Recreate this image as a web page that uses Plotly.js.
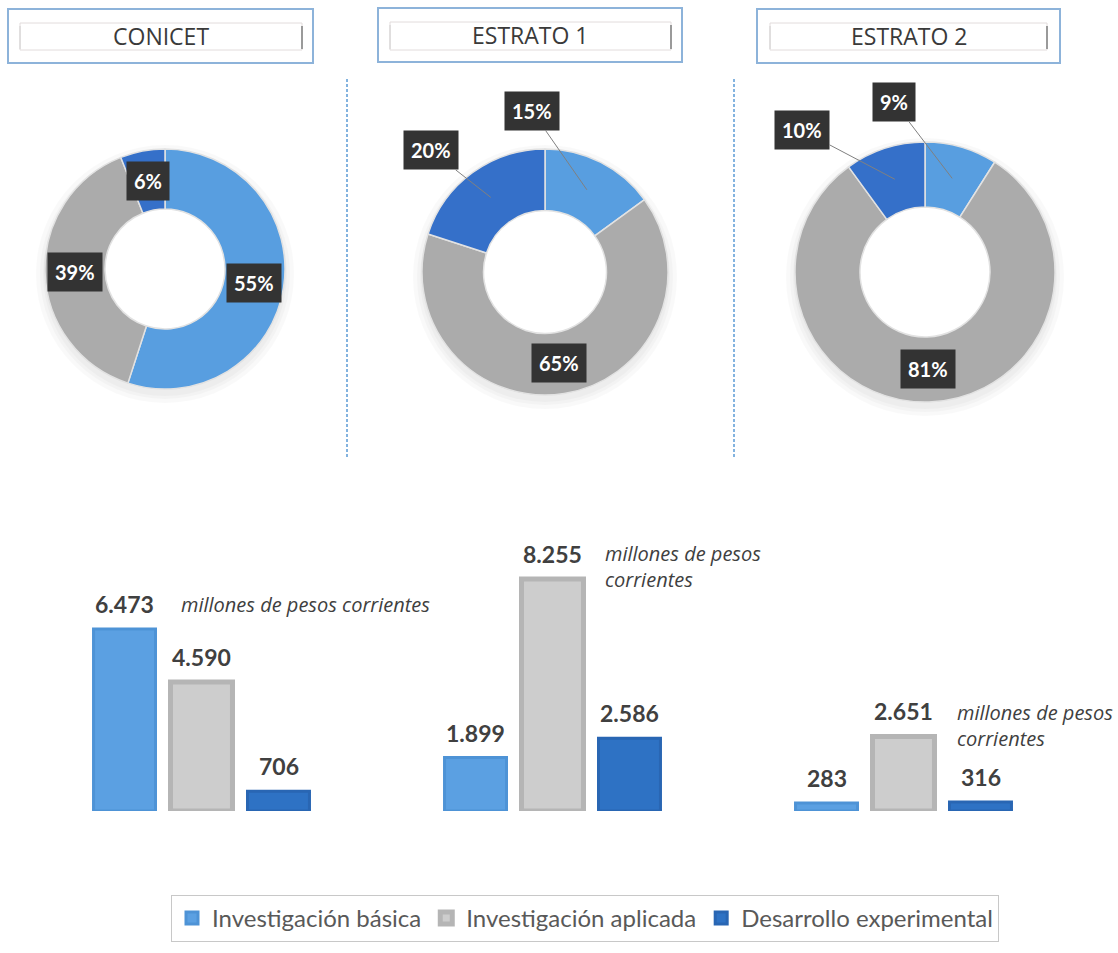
<!DOCTYPE html>
<html>
<head>
<meta charset="utf-8">
<script src="https://cdn.plot.ly/plotly-3.0.1.min.js"></script>
<style>
  html, body { margin: 0; padding: 0; background: #ffffff; }
  #chart { width: 1118px; height: 953px; }
</style>
</head>
<body>
<div id="chart"></div>
<script>
// ---------------- DATA ----------------
const categories = ['CONICET', 'ESTRATO 1', 'ESTRATO 2'];
const seriesNames = ['Investigación básica', 'Investigación aplicada', 'Desarrollo experimental'];

// millones de pesos corrientes
const basica       = [6473, 1899, 283];
const aplicada     = [4590, 8255, 2651];
const experimental = [706, 2586, 316];

// shares (%) shown in the donuts, per panel, in series order
const shareConicet  = [55, 39, 6];
const shareEstrato1 = [15, 65, 20];
const shareEstrato2 = [9, 81, 10];

const unitLabel = 'millones de pesos corrientes';

// ---------------- STYLE / LAYOUT ----------------
const W = 1118, H = 953;
const px = v => v / W;
const py = v => 1 - v / H;

const pieColors = ['#589EE0', '#ABABAB', '#3570C9'];
const barColors = ['#5BA0E2', '#CDCDCD', '#2E72C4'];
const barLines  = ['#4E93D6', '#B5B5B5', '#2966B3'];
const HOLE = 0.5;

const donutGeo = [
  {cx: 165, cy: 269, r: 120, callouts: [null, null, null]},
  {cx: 545, cy: 272, r: 123, callouts: [[-55, -79], null, [-60, -47]]},
  {cx: 925, cy: 272, r: 130, callouts: [[-58, -76], null, [-93, -49]]}
];
const shares = [shareConicet, shareEstrato1, shareEstrato2];

const traces = [];
const annotations = [];
const shapes = [];

// soft shadow behind donuts (hole kept white)
donutGeo.forEach(g => {
  [9, 5, 2].forEach(d => shapes.push({type: 'circle', xref: 'paper', yref: 'paper', layer: 'below',
    x0: px(g.cx - g.r - d), x1: px(g.cx + g.r + d), y0: py(g.cy + g.r + d + 5), y1: py(g.cy - g.r - d + 5),
    line: {width: 0}, fillcolor: 'rgba(0,0,0,0.022)'}));
  const hr = g.r * HOLE;
  shapes.push({type: 'circle', xref: 'paper', yref: 'paper', layer: 'below',
    x0: px(g.cx - hr - 1), x1: px(g.cx + hr + 1), y0: py(g.cy + hr + 1), y1: py(g.cy - hr - 1),
    line: {width: 0}, fillcolor: '#ffffff'});
});

// donuts
shares.forEach((sh, i) => {
  const g = donutGeo[i];
  traces.push({
    type: 'pie',
    values: sh,
    labels: seriesNames,
    sort: false,
    direction: 'clockwise',
    rotation: 0,
    hole: HOLE,
    textinfo: 'none',
    hoverinfo: 'skip',
    showlegend: false,
    marker: {colors: pieColors, line: {color: '#E2E2E2', width: 1.5}},
    domain: {x: [px(g.cx - g.r), px(g.cx + g.r)], y: [py(g.cy + g.r), py(g.cy - g.r)]}
  });
  const total = sh.reduce((a, b) => a + b, 0);
  let cum = 0;
  sh.forEach((s, k) => {
    const mid = (cum + s / 2) / total * 2 * Math.PI;
    cum += s;
    const rr = g.r * (1 + HOLE) / 2;
    const X = g.cx + rr * Math.sin(mid);
    const Y = g.cy - rr * Math.cos(mid);
    const co = g.callouts[k];
    const a = {
      xref: 'paper', yref: 'paper', x: px(X), y: py(Y),
      xanchor: 'center', yanchor: 'middle',
      text: s + '%',
      font: {family: 'Lato, Open Sans, sans-serif', size: 20, color: '#ffffff', weight: 700},
      bgcolor: '#333333', borderpad: 7,
      showarrow: false
    };
    if (co) {
      a.showarrow = true; a.ax = co[0]; a.ay = co[1];
      a.arrowhead = 0; a.arrowwidth = 1; a.arrowcolor = '#808080'; a.standoff = 0;
    }
    annotations.push(a);
  });
});

// bars
[basica, aplicada, experimental].forEach((vals, j) => {
  traces.push({
    type: 'bar',
    name: seriesNames[j],
    x: categories,
    y: vals,
    marker: {color: barColors[j], line: {color: barLines[j], width: j === 1 ? 5 : 3}},
    hoverinfo: 'skip'
  });
  vals.forEach((v, i) => {
    annotations.push({
      xref: 'x', yref: 'y', x: categories[i], y: v,
      xanchor: 'center', xshift: (j - 1) * 77, yshift: 9, yanchor: 'bottom',
      text: String(v).replace(/\B(?=(\d{3})+(?!\d))/g, '.'),
      font: {family: 'Lato, Open Sans, sans-serif', size: 23, color: '#404040', weight: 700},
      showarrow: false
    });
  });
});

// unit notes
[
  {x: 179, y: 604, t: unitLabel},
  {x: 603, y: 566, t: 'millones de pesos<br>corrientes'},
  {x: 955, y: 725, t: 'millones de pesos<br>corrientes'}
].forEach(u => annotations.push({
  xref: 'paper', yref: 'paper', x: px(u.x), y: py(u.y), xanchor: 'left', yanchor: 'middle',
  align: 'left', text: u.t, showarrow: false,
  font: {family: 'Open Sans, sans-serif', size: 20, color: '#404040', style: 'italic'}
}));

// title boxes
const boxes = [
  {o: [8, 9, 313, 63], i: [20, 23, 302, 50]},
  {o: [378, 8, 682, 62], i: [390, 22, 671, 50]},
  {o: [757, 9, 1060, 63], i: [770, 23, 1047, 50]}
];
boxes.forEach((b, k) => {
  shapes.push({type: 'rect', xref: 'paper', yref: 'paper',
    x0: px(b.o[0]), x1: px(b.o[2]), y0: py(b.o[3]), y1: py(b.o[1]),
    line: {color: '#8DB3DA', width: 2}});
  shapes.push({type: 'rect', xref: 'paper', yref: 'paper',
    x0: px(b.i[0]), x1: px(b.i[2]), y0: py(b.i[3]), y1: py(b.i[1]),
    line: {color: '#E2DCDC', width: 1}});
  shapes.push({type: 'line', xref: 'paper', yref: 'paper',
    x0: px(b.i[2]), x1: px(b.i[2]), y0: py(b.i[3] - 1), y1: py(b.i[1] + 3),
    line: {color: '#9A9A9A', width: 2}});
  shapes.push({type: 'line', xref: 'paper', yref: 'paper',
    x0: px(b.i[0]), x1: px(b.i[0]), y0: py(b.i[3] - 1), y1: py(b.i[1] + 3),
    line: {color: '#D0D0D0', width: 1}});
  annotations.push({xref: 'paper', yref: 'paper',
    x: px((b.o[0] + b.o[2]) / 2), y: py((b.o[1] + b.o[3]) / 2),
    xanchor: 'center', yanchor: 'middle',
    text: categories[k], showarrow: false,
    font: {family: 'Open Sans, sans-serif', size: 23, color: '#3A3A3A'}});
});

// dashed separators
[347, 734].forEach(x => shapes.push({type: 'line', xref: 'paper', yref: 'paper',
  x0: px(x), x1: px(x), y0: py(79), y1: py(457),
  line: {color: '#5B9BD5', width: 1.5, dash: '3px,2px'}}));

const layout = {
  width: W, height: H,
  margin: {l: 0, r: 0, t: 0, b: 0, pad: 0},
  paper_bgcolor: '#ffffff', plot_bgcolor: 'rgba(0,0,0,0)',
  barmode: 'group', bargap: 0.342, bargroupgap: 0.195,
  xaxis: {domain: [px(26), px(1079)], type: 'category', visible: false, fixedrange: true},
  yaxis: {domain: [py(811), py(558)], range: [0, 9000], visible: false, fixedrange: true},
  showlegend: true,
  legend: {orientation: 'h', x: px(585), xanchor: 'center', y: py(895), yanchor: 'top',
    bordercolor: '#C8C8C8', borderwidth: 1, bgcolor: '#ffffff',
    font: {family: 'Lato, Open Sans, sans-serif', size: 24, color: '#595959'},
    itemclick: false, itemdoubleclick: false, traceorder: 'normal'},
  annotations: annotations,
  shapes: shapes,
  font: {family: 'Lato, Open Sans, sans-serif'}
};

Plotly.newPlot('chart', traces, layout, {displayModeBar: false, staticPlot: true});
</script>
</body>
</html>
